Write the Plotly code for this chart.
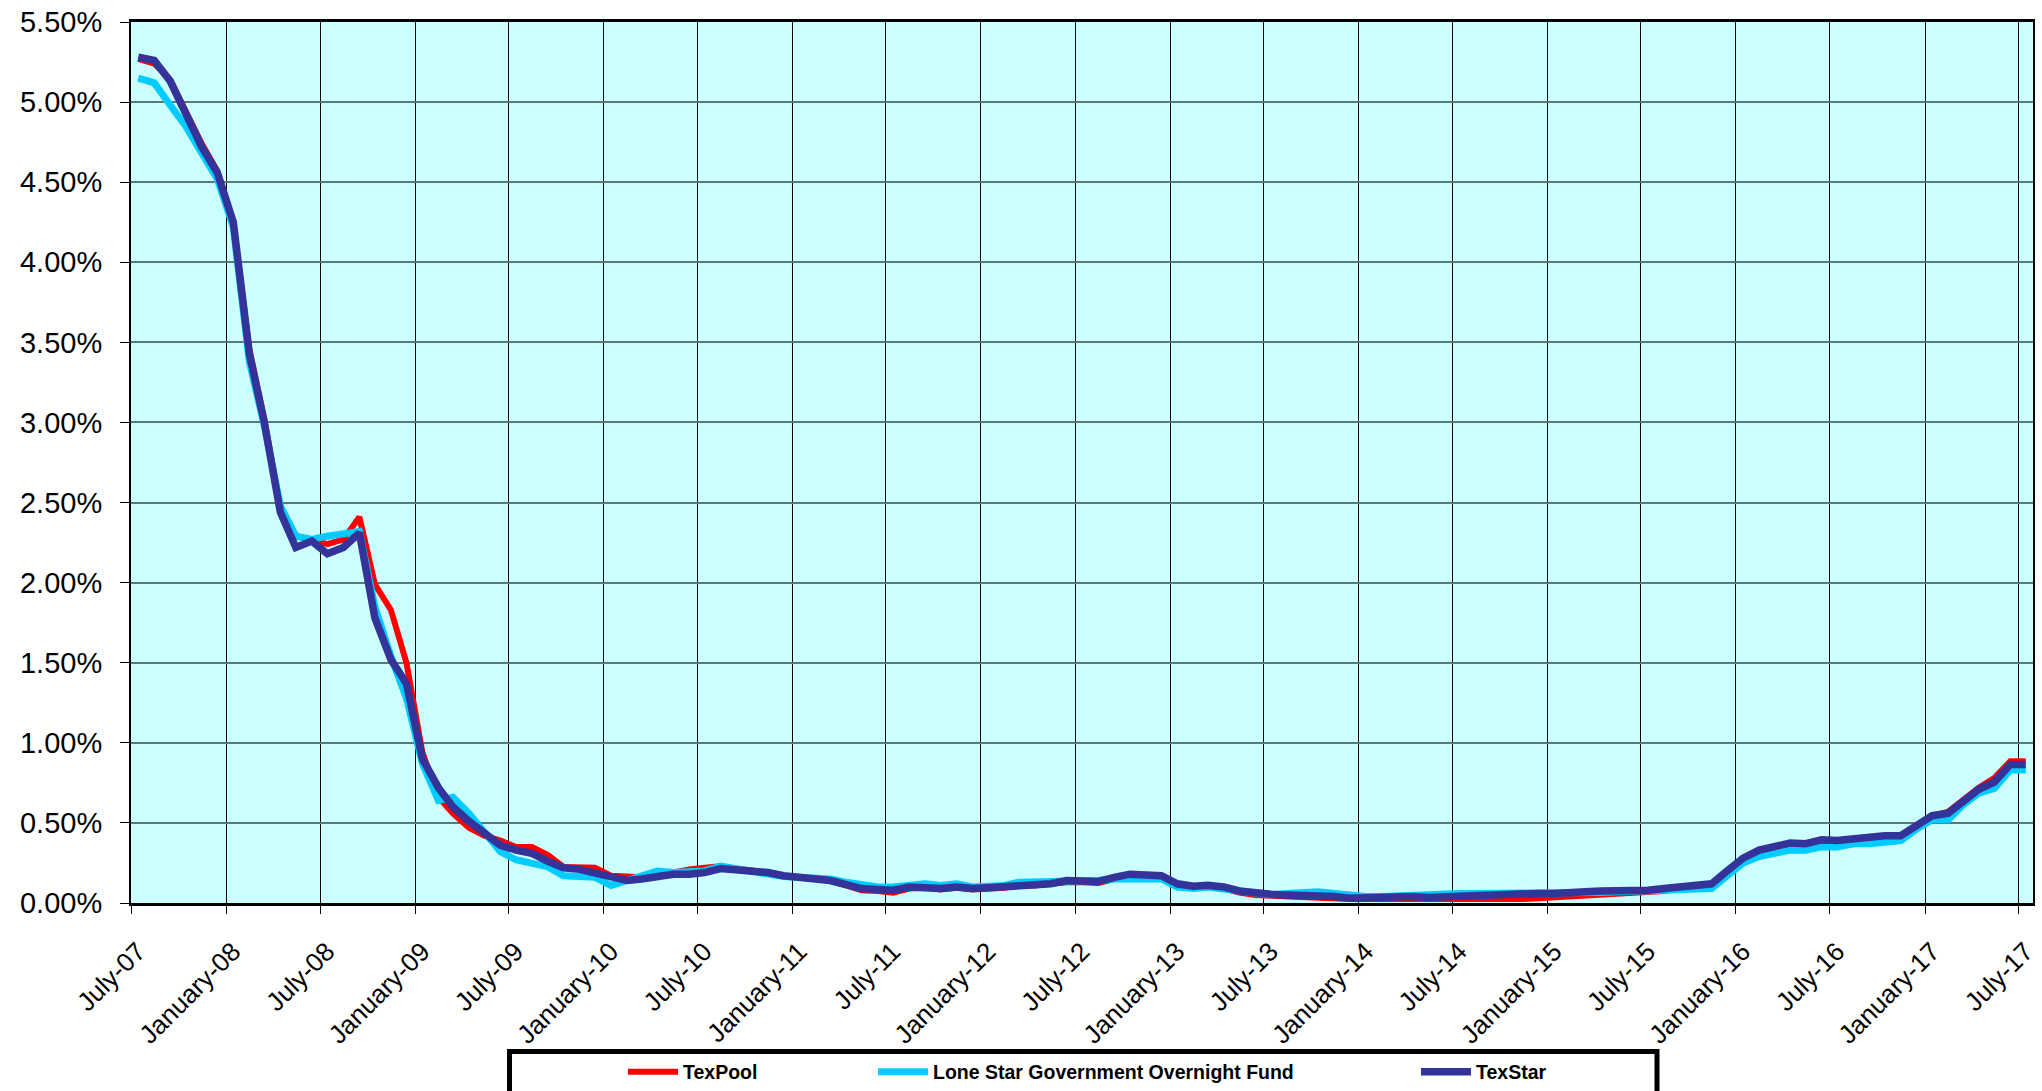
import plotly.graph_objects as go

# ---------------- data (percent yields, monthly Jul-2007 .. Jul-2017) ----------------
months = []
for k in range(121):
    y = 2007 + (6 + k) // 12
    m = (6 + k) % 12 + 1
    months.append(f"{y}-{m:02d}-15")

texpool = [5.27, 5.24, 5.14, 4.94, 4.74, 4.57, 4.25, 3.46, 3.02, 2.46,
           2.29, 2.27, 2.24, 2.27, 2.41, 1.99, 1.83, 1.50, 0.94, 0.66,
           0.56, 0.47, 0.42, 0.39, 0.35, 0.35, 0.30, 0.225, 0.225, 0.22,
           0.17, 0.16, 0.16, 0.17, 0.19, 0.21, 0.22, 0.23, 0.215, 0.205,
           0.19, 0.17, 0.16, 0.15, 0.14, 0.11, 0.08, 0.075, 0.065, 0.09,
           0.095, 0.085, 0.095, 0.085, 0.09, 0.095, 0.11, 0.11, 0.12, 0.13,
           0.13, 0.125, 0.15, 0.17, 0.17, 0.16, 0.11, 0.09, 0.10, 0.09,
           0.065, 0.05, 0.045, 0.04, 0.035, 0.035, 0.03, 0.025, 0.025, 0.025,
           0.025, 0.02, 0.02, 0.02, 0.02, 0.02, 0.02, 0.02, 0.025, 0.03,
           0.035, 0.04, 0.045, 0.05, 0.055, 0.06, 0.065, 0.075, 0.09, 0.11,
           0.12, 0.18, 0.25, 0.29, 0.32, 0.34, 0.35, 0.36, 0.36, 0.37,
           0.375, 0.38, 0.39, 0.47, 0.54, 0.57, 0.64, 0.72, 0.78, 0.885,
           0.885]

lone_star = [5.15, 5.12, 4.98, 4.85, 4.68, 4.52, 4.22, 3.38, 2.98, 2.48,
             2.29, 2.27, 2.29, 2.31, 2.32, 1.85, 1.54, 1.28, 0.87, 0.64,
             0.66, 0.56, 0.435, 0.32, 0.27, 0.25, 0.225, 0.17, 0.16, 0.16,
             0.11, 0.14, 0.17, 0.20, 0.19, 0.20, 0.20, 0.23, 0.21, 0.20,
             0.18, 0.165, 0.16, 0.15, 0.15, 0.13, 0.11, 0.10, 0.10, 0.11,
             0.12, 0.11, 0.12, 0.10, 0.10, 0.11, 0.13, 0.13, 0.13, 0.14,
             0.14, 0.14, 0.15, 0.15, 0.15, 0.15, 0.10, 0.09, 0.10, 0.09,
             0.07, 0.06, 0.05, 0.06, 0.065, 0.07, 0.06, 0.045, 0.04, 0.04,
             0.045, 0.05, 0.05, 0.055, 0.06, 0.06, 0.06, 0.06, 0.06, 0.06,
             0.06, 0.055, 0.06, 0.065, 0.07, 0.07, 0.075, 0.08, 0.085, 0.09,
             0.09, 0.17, 0.25, 0.29, 0.31, 0.33, 0.33, 0.35, 0.35, 0.37,
             0.37, 0.38, 0.39, 0.46, 0.52, 0.52, 0.61, 0.685, 0.715, 0.83,
             0.83]

texstar = [5.28, 5.26, 5.13, 4.93, 4.72, 4.56, 4.25, 3.43, 3.00, 2.44,
           2.22, 2.26, 2.18, 2.22, 2.31, 1.78, 1.52, 1.37, 0.90, 0.72,
           0.60, 0.51, 0.44, 0.36, 0.33, 0.31, 0.26, 0.22, 0.21, 0.19,
           0.16, 0.14, 0.15, 0.17, 0.18, 0.18, 0.19, 0.215, 0.21, 0.20,
           0.19, 0.17, 0.165, 0.15, 0.14, 0.12, 0.09, 0.085, 0.08, 0.10,
           0.095, 0.09, 0.10, 0.09, 0.095, 0.10, 0.11, 0.115, 0.12, 0.14,
           0.135, 0.135, 0.16, 0.18, 0.175, 0.17, 0.12, 0.105, 0.11, 0.10,
           0.075, 0.06, 0.055, 0.05, 0.05, 0.045, 0.04, 0.03, 0.035, 0.04,
           0.04, 0.04, 0.035, 0.04, 0.045, 0.045, 0.05, 0.05, 0.055, 0.06,
           0.06, 0.06, 0.07, 0.075, 0.075, 0.08, 0.08, 0.09, 0.10, 0.115,
           0.12, 0.20, 0.28, 0.33, 0.355, 0.375, 0.37, 0.395, 0.39, 0.40,
           0.415, 0.42, 0.42, 0.485, 0.545, 0.56, 0.63, 0.71, 0.755, 0.865,
           0.865]

tick_dates = [f"{2007 + (k + 1) // 2}-{'07' if k % 2 == 0 else '01'}-01" for k in range(21)]
tick_labels = [("July-" if k % 2 == 0 else "January-") + f"{(2007 + (k + 1) // 2) % 100:02d}"
               for k in range(21)]

series_names = ["TexPool", "Lone Star Government Overnight Fund", "TexStar"]
series_colors = ["#FF0000", "#00CCFF", "#333399"]
series_widths = [6, 7, 7.5]

# ---------------- figure ----------------
FONT = "Liberation Sans, Arial, sans-serif"
fig = go.Figure()
legends = ["legend", "legend2", "legend3"]
for name, vals, col, w, lg in zip(series_names, [texpool, lone_star, texstar],
                                   series_colors, series_widths, legends):
    fig.add_trace(go.Scatter(x=months, y=vals, mode="lines", name=name,
                             line=dict(color=col, width=w), legend=lg))

W, H = 2042, 1091
L, R, T, B = 131, 9, 22, 188
pw = W - L - R
ph = H - T - B

def px2x(px):
    return (px - L) / pw

def py2y(py):
    return (H - B - py) / ph

legend_common = dict(orientation="h", bgcolor="rgba(0,0,0,0)", borderwidth=0,
                     font=dict(family=FONT, size=19.5, color="black", weight="bold"),
                     itemwidth=50, xanchor="left", yanchor="middle", y=py2y(1072))

fig.update_layout(
    template="none",
    width=W, height=H,
    margin=dict(l=L, r=R, t=T, b=B, pad=0, autoexpand=False),
    paper_bgcolor="white",
    plot_bgcolor="#CCFFFF",
    showlegend=True,
    legend=dict(**legend_common, x=px2x(688 - 65)),
    legend2=dict(**legend_common, x=px2x(938 - 65)),
    legend3=dict(**legend_common, x=px2x(1481 - 65)),
    xaxis=dict(
        type="date",
        range=["2007-07-01", "2017-07-29"],
        tickmode="array", tickvals=tick_dates, ticktext=tick_labels,
        tickangle=-45,
        tickfont=dict(family=FONT, size=26, color="black"),
        ticks="outside", ticklen=8, tickcolor="black", tickwidth=1,
        ticklabelstandoff=12, ticklabelshift=7,
        showgrid=True, gridcolor="black", gridwidth=1,
        showline=True, linecolor="black", linewidth=3, mirror=True,
        zeroline=False, automargin=False,
    ),
    yaxis=dict(
        range=[0, 5.5],
        dtick=0.5, tick0=0, tickmode="linear",
        tickformat=".2f", ticksuffix="%",
        tickfont=dict(family=FONT, size=29, color="black"),
        ticks="outside", ticklen=9, tickcolor="black", tickwidth=1,
        ticklabelstandoff=12,
        showgrid=True, gridcolor="#5c7674", gridwidth=2,
        showline=True, linecolor="black", linewidth=2, mirror=True,
        zeroline=False, automargin=False,
    ),
    shapes=[dict(type="rect", xref="paper", yref="paper",
                 x0=px2x(509.5), x1=px2x(1657), y0=py2y(1110), y1=py2y(1051.5),
                 line=dict(color="black", width=5), fillcolor="rgba(0,0,0,0)",
                 layer="above")],
)

fig.write_html("out.html", include_plotlyjs=True,
               config={"displayModeBar": False},
               post_script="document.body.style.margin='0px';")
